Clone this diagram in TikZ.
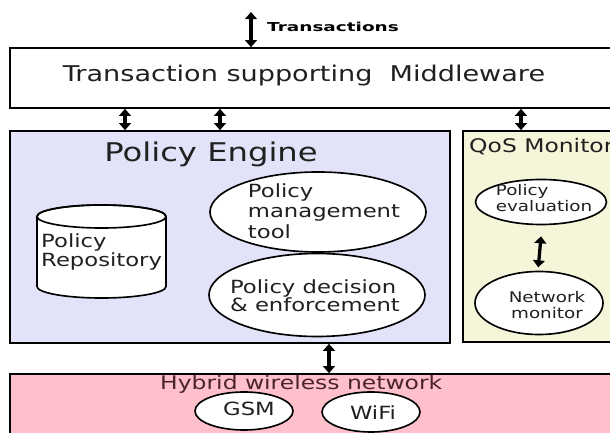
\documentclass[tikz,border=0pt]{standalone}
\usepackage{fontspec}
\setmainfont[FakeStretch=1.25]{DejaVu Sans}
\newfontfamily\widefont[FakeStretch=1.5]{DejaVu Sans}
\usetikzlibrary{shapes.geometric,arrows.meta,fit}
\definecolor{pelav}{RGB}{226,226,248}
\definecolor{qosbeige}{RGB}{245,245,218}
\definecolor{netpink}{RGB}{255,192,203}
\definecolor{txtgrey}{RGB}{32,32,32}
\definecolor{netbrown}{RGB}{75,35,45}

\begin{document}
\begin{tikzpicture}[x=0.03cm, y=-0.03cm]
\tikzset{box/.style={draw, line width=1.4pt, inner sep=0pt},
         oval/.style={ellipse, draw, line width=1.4pt, fill=white, inner sep=0pt},
         ovtext/.style={align=left, text=txtgrey, inner sep=0pt},
         dbl/.style={{Triangle[length=6pt,width=10pt]}-{Triangle[length=6pt,width=10pt]}, line width=2.8pt}}
\clip (0,0) rectangle (610,433);
\fill[white] (0,0) rectangle (610,433);

\node[box, fit={(10,48) (625,108)}] (mw) {};
\node[box, fill=pelav, fit={(10,131) (450,343)}] (pe) {};
\node[box, fill=qosbeige, fit={(463,131) (625,342)}] (qos) {};
\node[box, fill=netpink, fit={(10,374) (625,445)}] (hwn) {};

\node[anchor=base, text=txtgrey, font=\fontsize{18.5}{22}\selectfont] (mwlab) at (304,82) {Transaction supporting\ \ Middleware};
\node[anchor=base, text=txtgrey, font=\fontsize{22}{26}\selectfont] (pelab) at (211,162) {Policy Engine};
\node[anchor=base west, inner sep=0pt, text=txtgrey, font=\fontsize{16}{19}\selectfont] (qoslab) at (469,153) {QoS Monitor};
\node[anchor=base west, inner sep=0pt, text=netbrown, font=\fontsize{16}{19}\selectfont] (hwnlab) at (160,390) {Hybrid wireless network};

\coordinate (txin) at (251,12);
\node[anchor=west, inner sep=0pt, font=\widefont\bfseries\fontsize{10.5}{12}\selectfont] (txlab) at (267,27) {Transactions};
\draw[dbl] (txin) -- (txin |- mw.north);
\draw[dbl] (125,0 |- mw.south) -- (125,0 |- pe.north);
\draw[dbl] (220,0 |- mw.south) -- (220,0 |- pe.north);
\draw[dbl] (521,0 |- mw.south) -- (521,0 |- qos.north);
\draw[dbl] (329,0 |- pe.south) -- (329,0 |- hwn.north);

\draw[line width=1.4pt, fill=white] (37,216.5) -- (37,286.5)
  arc[start angle=180, end angle=360, x radius=1.935cm, y radius=0.345cm] -- (166,216.5)
  arc[start angle=0, end angle=180, x radius=1.935cm, y radius=0.345cm] -- cycle;
\draw[line width=1.4pt] (101.5,216.5) ellipse[x radius=1.935cm, y radius=0.345cm];
\node[ovtext, anchor=west, font=\fontsize{15.5}{17}\selectfont] (repo) at (41,252) {Policy\\Repository};

\node[oval, minimum width=6.48cm, minimum height=2.4cm] (pmt) at (318,212) {};
\node[ovtext, font=\fontsize{15.5}{17.5}\selectfont] (pmtlab) at (324,211) {Policy\\management\\tool};
\node[oval, minimum width=6.48cm, minimum height=2.49cm] (pde) at (317,295) {};
\node[ovtext, font=\fontsize{15.5}{15.5}\selectfont] (pdelab) at (315,296) {Policy decision\\\& enforcement};

\node[oval, minimum width=3.93cm, minimum height=1.35cm] (peval) at (541,202) {};
\node[ovtext, font=\fontsize{12.5}{13.6}\selectfont] (pevallab) at (544,198) {Policy\\evaluation};
\node[oval, minimum width=3.84cm, minimum height=1.89cm] (nmon) at (539,303) {};
\node[ovtext, align=center, font=\fontsize{12.5}{13.6}\selectfont] (nmonlab) at (547,305) {Network\\monitor};
\draw[dbl, shorten <=0.33cm, shorten >=0.1cm] ([xshift=0.03cm]peval.south) -- ([xshift=-0.03cm]nmon.north);

\node[oval, minimum width=2.94cm, minimum height=1.14cm] (gsm) at (244,411) {};
\node[ovtext, font=\fontsize{15.5}{17}\selectfont] (gsmlab) at (249,409) {GSM};
\node[oval, minimum width=2.94cm, minimum height=1.2cm] (wifi) at (371,412) {};
\node[ovtext, font=\fontsize{15.5}{17}\selectfont] (wifilab) at (373,413) {WiFi};
\end{tikzpicture}
\end{document}
